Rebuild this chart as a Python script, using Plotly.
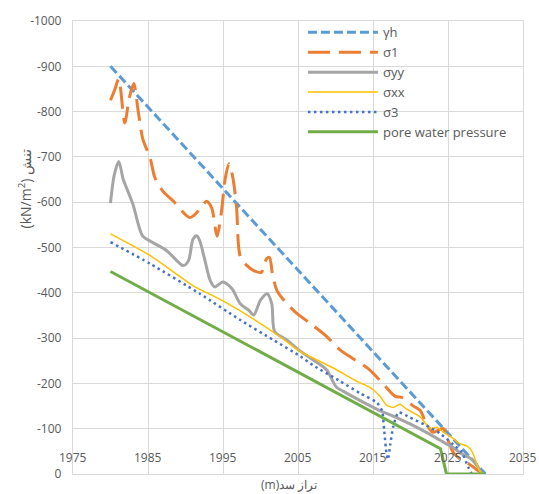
import plotly.graph_objects as go

# Dam elevation (m) and stress values (kN/m^2) for each series
gh_x = [1980, 1985, 1990, 1995, 2000, 2005, 2010, 2015, 2020, 2025, 2030]
gh_y = [-900, -810, -720, -630, -540, -450, -360, -270, -180, -90, 0]

s1_x = [1980.0, 1980.6, 1981.1, 1981.9, 1982.5, 1983.1, 1983.7, 1984.3, 1985.3, 1985.9,
        1987.0, 1988.4, 1990.6, 1991.9, 1992.8, 1993.5, 1994.2, 1994.8, 1995.3, 1995.8,
        1996.3, 1996.8, 1997.3, 1998.2, 1999.1, 2000.1, 2000.8, 2001.2, 2001.6, 2002.2,
        2003.1, 2004.8, 2006.6, 2008.8, 2010.6, 2012.2, 2014.4, 2016.4, 2017.9, 2019.0,
        2020.3, 2021.3, 2022.1, 2023.0, 2023.7, 2024.4, 2025.0, 2025.7, 2026.6, 2027.8,
        2028.8, 2029.6]
s1_y = [-825, -850, -872, -775, -830, -862, -800, -740, -697, -655,
        -624, -602, -566, -584, -602, -587, -525, -580, -653, -685,
        -655, -590, -480, -460, -449, -445, -475, -478, -440, -405,
        -384, -355, -333, -304, -274, -256, -232, -198, -172, -168,
        -151, -140, -111, -92, -97, -100, -75, -48, -33, -22,
        -10, 0]

syy_x = [1980.0, 1980.5, 1981.1, 1981.7, 1982.3, 1983.0, 1984.3, 1985.5, 1987.5, 1989.7,
         1990.4, 1991.0, 1991.5, 1991.9, 1992.6, 1993.3, 1993.9, 1995.0, 1996.2, 1997.3,
         1998.4, 1999.1, 2000.0, 2000.9, 2001.5, 2001.9, 2003.5, 2005.0, 2007.0, 2008.8,
         2010.1, 2011.0, 2013.3, 2015.9, 2017.7, 2020.0, 2022.1, 2024.0, 2025.5, 2026.8,
         2028.2, 2028.9, 2029.5]
syy_y = [-598, -660, -690, -650, -625, -595, -525, -512, -493, -460,
         -471, -518, -526, -515, -471, -427, -413, -424, -409, -376,
         -362, -351, -384, -398, -376, -314, -296, -275, -252, -230,
         -192, -183, -162, -140, -128, -110, -92, -74, -60, -45,
         -32, -18, 0]

sxx_x = [1980.0, 1985.3, 1991.0, 1995.0, 1998.6, 2002.6, 2005.3, 2007.0, 2009.7, 2012.8,
         2014.6, 2015.9, 2016.8, 2017.7, 2018.6, 2019.5, 2020.4, 2021.3, 2022.1, 2022.8,
         2023.5, 2024.4, 2025.3, 2026.6, 2027.5, 2028.2, 2028.9, 2029.3, 2029.9]
sxx_y = [-530, -482, -416, -382, -347, -303, -270, -256, -234, -205,
         -191, -172, -152, -147, -154, -143, -135, -126, -110, -100,
         -103, -92, -83, -67, -62, -50, -20, -5, 0]

s3_x = [1980.0, 1985.3, 1991.9, 1997.3, 2001.7, 2005.3, 2007.0, 2010.6, 2013.3, 2015.5,
        2016.2, 2016.5, 2016.8, 2017.0, 2017.3, 2017.7, 2018.4, 2019.9, 2022.1, 2023.9,
        2025.7, 2026.8, 2027.7, 2028.2]
s3_y = [-512, -464, -398, -340, -296, -260, -240, -205, -178, -158,
        -140, -95, -45, -32, -65, -105, -136, -125, -107, -90,
        -65, -49, -15, 0]

pw_x = [1980, 2024.0, 2024.8, 2030]
pw_y = [-447, -56, 0, 0]

x_ticks = [1975, 1985, 1995, 2005, 2015, 2025, 2035]
x_tick_text = ["1975", "1985", "1995", "2005", "2015", "2025", "2035"]
x_label_level = -37  # elevation labels sit just above the 0 line
y_ticks = [0, -100, -200, -300, -400, -500, -600, -700, -800, -900, -1000]
y_tick_text = ["0", "-100", "-200", "-300", "-400", "-500", "-600", "-700", "-800", "-900", "-1000"]

GRID = "#d9d9d9"
TEXT = "#595959"
FONT = "Open Sans"

fig = go.Figure()
fig.add_trace(go.Scatter(x=gh_x, y=gh_y, mode="lines", name="γh",
                         line=dict(color="#5B9BD5", width=3, dash="9px,4px")))
fig.add_trace(go.Scatter(x=s1_x, y=s1_y, mode="lines", name="σ1",
                         line=dict(color="#ED7D31", width=3, dash="22px,9px",
                                   shape="spline", smoothing=0.8)))
fig.add_trace(go.Scatter(x=syy_x, y=syy_y, mode="lines", name="σyy",
                         line=dict(color="#A5A5A5", width=3, shape="spline", smoothing=0.8)))
fig.add_trace(go.Scatter(x=sxx_x, y=sxx_y, mode="lines", name="σxx",
                         line=dict(color="#FFC000", width=1.5, shape="spline", smoothing=0.6)))
fig.add_trace(go.Scatter(x=s3_x, y=s3_y, mode="lines", name="σ3",
                         line=dict(color="#4472C4", width=2.5, dash="2.5px,3.5px",
                                   shape="spline", smoothing=0.6)))
fig.add_trace(go.Scatter(x=pw_x, y=pw_y, mode="lines", name="pore water pressure",
                         line=dict(color="#70AD47", width=3)))

fig.update_layout(
    width=539, height=494,
    margin=dict(l=73, r=16, t=21, b=15),
    paper_bgcolor="white", plot_bgcolor="white",
    font=dict(family=FONT, size=12, color=TEXT),
    showlegend=True,
    legend=dict(x=0.511, y=1.008, xanchor="left", yanchor="top",
                bgcolor="rgba(0,0,0,0)", borderwidth=0,
                font=dict(family=FONT, size=13, color=TEXT),
                itemwidth=70, tracegroupgap=0),
    xaxis=dict(range=[1975, 2035], tickvals=x_ticks, ticks="", showticklabels=False,
               showgrid=True, gridcolor=GRID, gridwidth=1.3,
               showline=True, linecolor=GRID, linewidth=1.3, mirror=True,
               zeroline=False),
    yaxis=dict(range=[0, -1000], tickvals=y_ticks, ticktext=y_tick_text, ticks="",
               ticklabelstandoff=8,
               showgrid=True, gridcolor=GRID, gridwidth=1.3,
               showline=True, linecolor=GRID, linewidth=1.3, mirror=True,
               zeroline=False, tickfont=dict(size=12, color=TEXT)),
)

# Elevation labels drawn inside the plot, just above the zero line
for xv, xt in zip(x_ticks, x_tick_text):
    fig.add_annotation(text=xt, x=xv, y=x_label_level, xref="x", yref="y",
                       xanchor="center", yanchor="middle", showarrow=False,
                       font=dict(family=FONT, size=12, color=TEXT))

# Axis titles
fig.add_annotation(text="(kN/m<sup>2</sup>) تنش", xref="paper", yref="paper",
                   x=-0.107, y=0.63, xanchor="center", yanchor="middle",
                   textangle=-90, showarrow=False,
                   font=dict(family=FONT, size=14, color=TEXT))
fig.add_annotation(text="(m)تراز سد", xref="paper", yref="paper",
                   x=0.48, y=0.0, xanchor="center", yanchor="top",
                   showarrow=False, font=dict(family=FONT, size=12, color=TEXT))

fig.write_html("out.html")
